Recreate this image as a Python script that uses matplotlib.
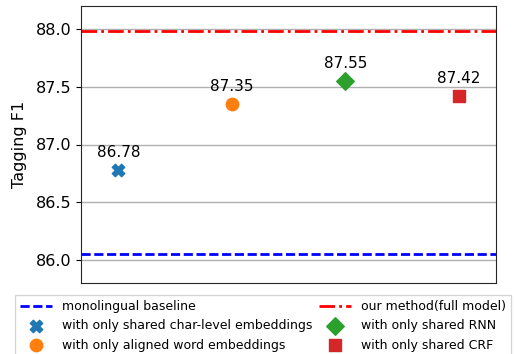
import matplotlib
matplotlib.use("Agg")
import matplotlib.pyplot as plt

# F1 scores for each ablation variant
variants = [
    "with only shared char-level embeddings",
    "with only aligned word embeddings",
    "with only shared RNN",
    "with only shared CRF",
]
scores = [86.78, 87.35, 87.55, 87.42]
markers = ["X", "o", "D", "s"]
colors = ["#1f77b4", "#ff7f0e", "#2ca02c", "#d62728"]

baseline_label = "monolingual baseline"
baseline_score = 86.05
full_label = "our method(full model)"
full_score = 87.98

yticks = [86.0, 86.5, 87.0, 87.5, 88.0]

fig = plt.figure(figsize=(5.14, 3.54), dpi=100)
ax = fig.add_axes([81 / 514, 1 - 283 / 354, 415 / 514, 277 / 354])

ax.set_ylim(85.8, 88.2)
ax.set_xlim(-0.33, 3.33)
ax.set_yticks(yticks)
ax.set_yticklabels([f"{t:.1f}" for t in yticks], fontsize=11.5)
ax.set_xticks([])
ax.yaxis.grid(True, color="#b0b0b0", linewidth=1.0)
ax.set_axisbelow(True)
ax.set_ylabel("Tagging F1", fontsize=11.5, labelpad=6)
for s in ax.spines.values():
    s.set_color("#262626")

h_base = ax.axhline(baseline_score, color="blue", linestyle=(0, (3.3, 1.3)), linewidth=2, label=baseline_label)
h_full = ax.axhline(full_score, color="red", linestyle=(0, (5.6, 1.5, 1.0, 1.5)), linewidth=2, label=full_label)

handles = []
for i, (name, val, m, c) in enumerate(zip(variants, scores, markers, colors)):
    h = ax.scatter([i], [val], marker=m, color=c, s=80, label=name, zorder=3)
    handles.append(h)
    ax.annotate(f"{val:.2f}", (i, val), xytext=(0, 7), textcoords="offset points",
                ha="center", va="bottom", fontsize=11)

order = [h_base, handles[0], handles[1], h_full, handles[2], handles[3]]
fig.legend(handles=order, labels=[h.get_label() for h in order], ncol=2,
           loc="upper center", bbox_to_anchor=(263 / 514, 1 - 295 / 354),
           fontsize=9, columnspacing=0.5, handlelength=2.55, handletextpad=0.8,
           labelspacing=0.5, borderaxespad=0.0, fancybox=False)

fig.savefig("out.png", dpi=100)
